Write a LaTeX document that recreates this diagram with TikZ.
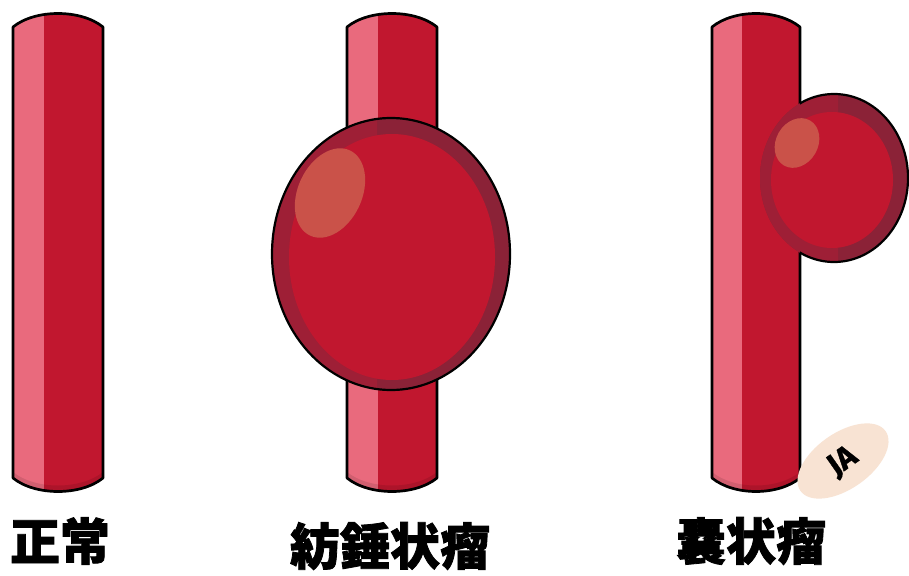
\documentclass[tikz,border=0pt]{standalone}
\usepackage{fontspec}
\newfontfamily\jpfont{Noto Sans CJK JP}[BoldFeatures={FakeBold=1.6}]
\newfontfamily\badgefont{Fira Sans}[BoldFeatures={FakeBold=1.2}]

\definecolor{vessel}{HTML}{C1172F}
\definecolor{vesselhi}{HTML}{E96A7D}
\definecolor{rimlt}{HTML}{9E1F36}
\definecolor{rimdk}{HTML}{8B2237}
\definecolor{gloss}{HTML}{CA5249}
\definecolor{badge}{HTML}{F8E3D3}

\begin{document}
\begin{tikzpicture}[x=1pt, y=-1pt,
    wall/.style={draw=black, line width=2.7pt, line join=round},
    bulge/.style={draw=black, line width=2.2pt},
    lbl/.style={font=\jpfont\bfseries\fontsize{50}{50}\selectfont, inner sep=0pt}]
  \fill[white] (0,0) rectangle (909,575);
  \useasboundingbox (0,0) rectangle (909,575);

  % vessels: left edge / stripe edge / right edge
  \foreach \xl/\xs/\xr in {13/44/103, 347/378/437, 712/742/800} {
    \begin{scope}
      \clip (\xl,27) .. controls (\xl+22,9) and (\xr-22,9) .. (\xr,27)
        -- (\xr,478) .. controls (\xr-22,496) and (\xl+22,496) .. (\xl,478) -- cycle;
      \fill[vessel] (\xl,0) rectangle (\xr,500);
      \fill[vesselhi] (\xl,0) rectangle (\xs,500);
      \fill[black, opacity=.1] (\xl,472) .. controls (\xl+22,490) and (\xr-22,490) .. (\xr,472)
        -- (\xr,500) -- (\xl,500) -- cycle;
    \end{scope}
    \draw[wall] (\xl,27) .. controls (\xl+22,9) and (\xr-22,9) .. (\xr,27)
      -- (\xr,478) .. controls (\xr-22,496) and (\xl+22,496) .. (\xl,478) -- cycle;
  }

  % fusiform bulge
  \fill[rimdk] (391,254) ellipse [x radius=119, y radius=136];
  \begin{scope}
    \clip (260,100) rectangle (377,400);
    \fill[rimlt] (391,254) ellipse [x radius=119, y radius=136];
  \end{scope}
  \fill[vessel] (392,257) ellipse [x radius=103, y radius=123];
  \fill[gloss, rotate around={-25:(330,193)}] (330,193) ellipse [x radius=32, y radius=47];
  \draw[bulge] (391,254) ellipse [x radius=119, y radius=136];

  % saccular bulge (outline only outside the vessel)
  \fill[rimdk] (834,178) ellipse [x radius=74, y radius=84];
  \begin{scope}
    \clip (750,80) rectangle (838,270);
    \fill[rimlt] (834,178) ellipse [x radius=74, y radius=84];
  \end{scope}
  \fill[vessel] (832,180) ellipse [x radius=61, y radius=68];
  \fill[gloss, rotate around={-30:(797,143)}] (797,143) ellipse [x radius=21, y radius=26];
  \begin{scope}
    \clip (800,80) rectangle (912,270);
    \draw[bulge] (834,178) ellipse [x radius=74, y radius=84];
  \end{scope}

  % badge
  \fill[badge, rotate around={35:(843,461)}] (843,461) ellipse [x radius=52, y radius=28];
  \node[rotate=35, inner sep=0pt, font=\badgefont\bfseries\fontsize{31}{31}\selectfont] (ja) at (843,462) {JA};

  % labels
  \node[lbl] (normal) at (60,541) {正常};
  \node[lbl] (fusiform) at (390,546) {紡錘状瘤};
  \node[lbl] (saccular) at (751,541) {嚢状瘤};
\end{tikzpicture}
\end{document}
